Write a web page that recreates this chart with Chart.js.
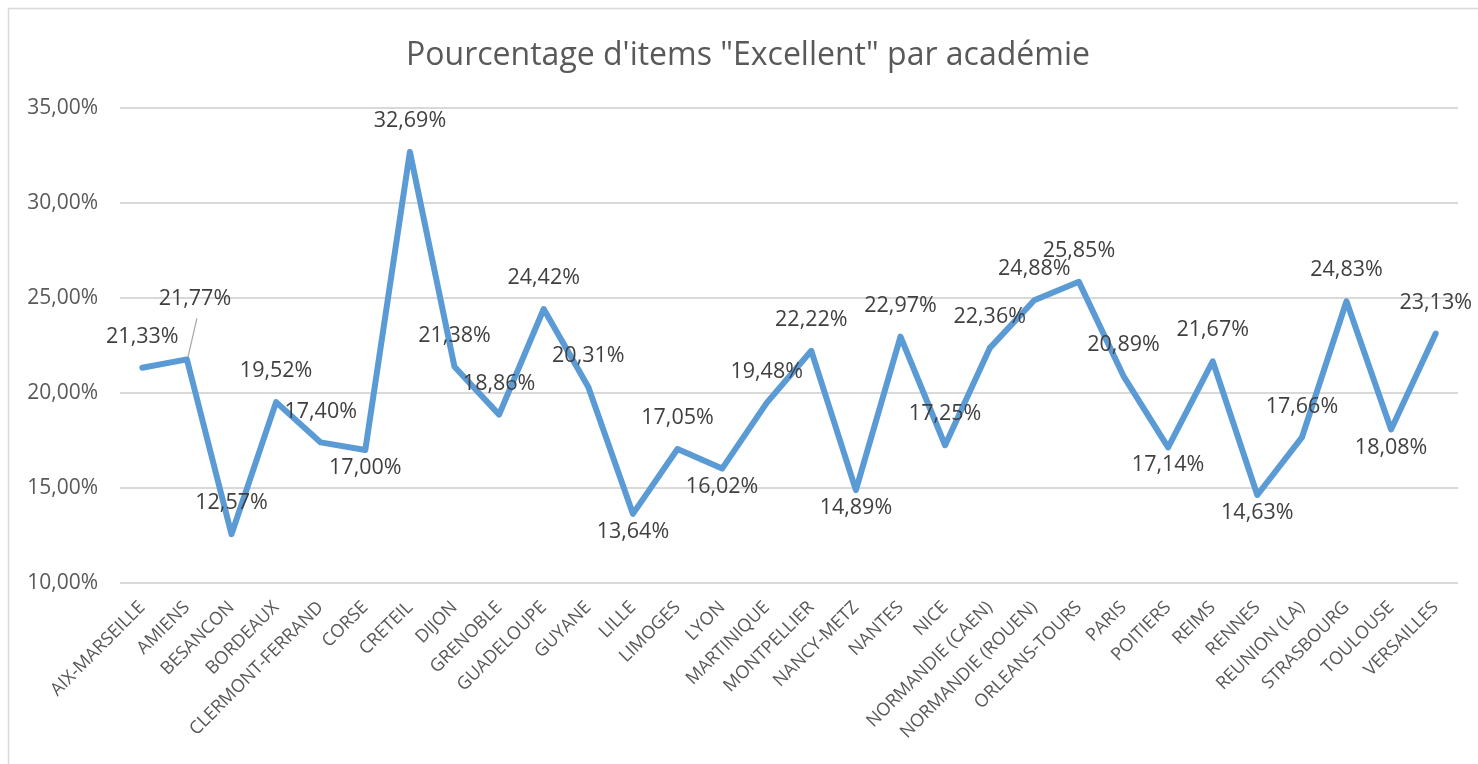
<!DOCTYPE html>
<html>
<head>
<meta charset="utf-8">
<script src="https://cdn.jsdelivr.net/npm/chart.js@4.4.1/dist/chart.umd.min.js"></script>
<style>
    html, body { margin: 0; padding: 0; background: #fff; }
    #wrap { position: relative; width: 1478px; height: 764px; }
</style>
</head>
<body>
<div id="wrap"><canvas id="chart" width="1478" height="764"></canvas></div>
<script>
const title = 'Pourcentage d\'items "Excellent" par académie';

const academies = [
    'AIX-MARSEILLE', 'AMIENS', 'BESANCON', 'BORDEAUX', 'CLERMONT-FERRAND', 'CORSE', 'CRETEIL',
    'DIJON', 'GRENOBLE', 'GUADELOUPE', 'GUYANE', 'LILLE', 'LIMOGES', 'LYON', 'MARTINIQUE',
    'MONTPELLIER', 'NANCY-METZ', 'NANTES', 'NICE', 'NORMANDIE (CAEN)', 'NORMANDIE (ROUEN)',
    'ORLEANS-TOURS', 'PARIS', 'POITIERS', 'REIMS', 'RENNES', 'REUNION (LA)', 'STRASBOURG',
    'TOULOUSE', 'VERSAILLES'
];

const excellentPct = [
    21.33, 21.77, 12.57, 19.52, 17.40, 17.00, 32.69,
    21.38, 18.86, 24.42, 20.31, 13.64, 17.05, 16.02, 19.48,
    22.22, 14.89, 22.97, 17.25, 22.36, 24.88,
    25.85, 20.89, 17.14, 21.67, 14.63, 17.66, 24.83,
    18.08, 23.13
];

const yTicks = [10, 15, 20, 25, 30, 35];

// where each value label sits: a = above, b = below, l = above with leader line
const labelPos = [
    'a', 'l', 'a', 'a', 'a', 'b', 'a',
    'a', 'a', 'a', 'a', 'b', 'a', 'b', 'a',
    'a', 'b', 'a', 'a', 'a', 'a',
    'a', 'a', 'b', 'a', 'b', 'a', 'a',
    'b', 'a'
];

const fmt = v => v.toFixed(2).replace('.', ',') + '%';
const FONT = '"Open Sans", "Noto Sans", sans-serif';

const decor = {
    id: 'decor',
    beforeDraw(chart) {
        const ctx = chart.ctx;
        ctx.save();
        ctx.strokeStyle = '#d9d9d9';
        ctx.lineWidth = 1.5;
        ctx.beginPath();
        ctx.moveTo(8.5, 764);
        ctx.lineTo(8.5, 8.5);
        ctx.lineTo(1478, 8.5);
        ctx.stroke();
        ctx.fillStyle = '#595959';
        ctx.font = '32px ' + FONT;
        ctx.textAlign = 'center';
        ctx.textBaseline = 'middle';
        ctx.fillText(title, 748, 56);
        ctx.restore();
    },
    afterDatasetsDraw(chart) {
        const ctx = chart.ctx;
        const pts = chart.getDatasetMeta(0).data;
        ctx.save();
        ctx.font = '21.5px ' + FONT;
        ctx.fillStyle = '#404040';
        ctx.textAlign = 'center';
        ctx.textBaseline = 'middle';
        pts.forEach((p, i) => {
            const pos = labelPos[i];
            let x = p.x, y = p.y;
            if (pos === 'b') {
                y += 18;
            } else if (pos === 'l') {
                ctx.strokeStyle = '#a6a6a6';
                ctx.lineWidth = 1.2;
                ctx.beginPath();
                ctx.moveTo(p.x + 1, p.y - 2);
                ctx.lineTo(p.x + 10, p.y - 41);
                ctx.stroke();
                x += 8;
                y -= 60;
            } else {
                y -= 31;
            }
            ctx.fillText(fmt(excellentPct[i]), x, y);
        });
        ctx.restore();
    }
};

new Chart(document.getElementById('chart').getContext('2d'), {
    type: 'line',
    data: {
        labels: academies,
        datasets: [{
            data: excellentPct,
            borderColor: '#5b9bd5',
            borderWidth: 6,
            borderJoinStyle: 'round',
            borderCapStyle: 'round',
            pointRadius: 0,
            pointHoverRadius: 0,
            tension: 0,
            fill: false
        }]
    },
    options: {
        responsive: false,
        animation: false,
        layout: { padding: { top: 108, right: 20, bottom: 0, left: 0 } },
        plugins: {
            legend: { display: false },
            title: { display: false },
            tooltip: { enabled: false }
        },
        scales: {
            x: {
                offset: true,
                grid: { display: false, drawTicks: false },
                border: { display: false },
                ticks: {
                    color: '#595959',
                    font: { family: FONT, size: 18 },
                    minRotation: 45,
                    maxRotation: 45,
                    autoSkip: false,
                    padding: 14
                },
                afterFit(scale) { scale.height = 181; }
            },
            y: {
                min: 10,
                max: 35,
                afterBuildTicks(scale) { scale.ticks = yTicks.map(v => ({ value: v })); },
                grid: { color: '#d9d9d9', lineWidth: 2, drawTicks: false },
                border: { display: false },
                ticks: {
                    color: '#595959',
                    font: { family: FONT, size: 21 },
                    padding: 22,
                    callback: v => fmt(v)
                },
                afterFit(scale) { scale.width = 120; }
            }
        }
    },
    plugins: [decor]
});
</script>
</body>
</html>
